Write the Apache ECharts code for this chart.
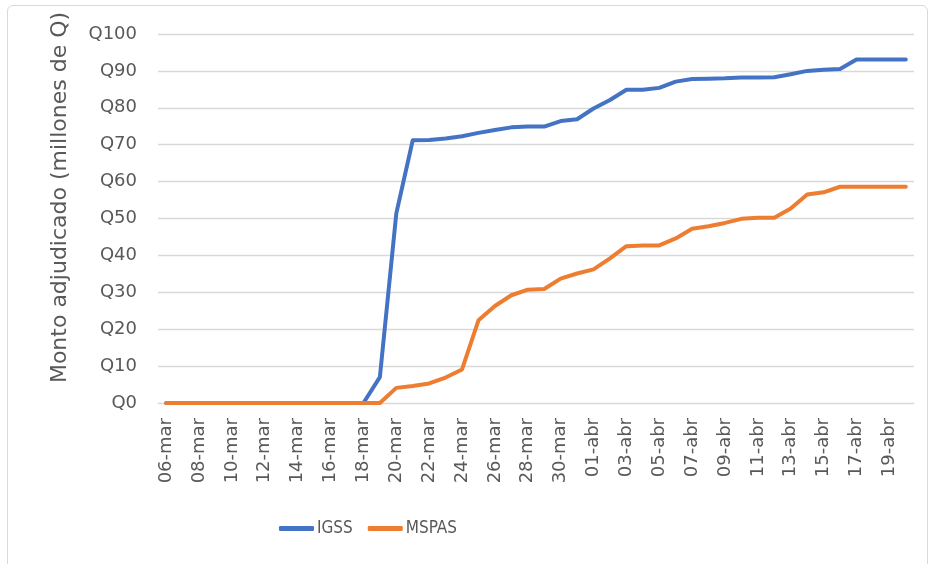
<!DOCTYPE html>
<html><head><meta charset="utf-8">
<script src="https://cdn.jsdelivr.net/npm/echarts@6/dist/echarts.min.js"></script>
<style>
html,body{margin:0;padding:0;background:#fff;}
#frame{position:absolute;left:7px;top:5px;width:921px;height:580px;border:1px solid #d9d9d9;border-radius:6px;box-sizing:border-box;}
#c{position:absolute;left:0;top:0;width:931px;height:564px;}
</style>
</head><body>
<div id="frame"></div>
<div id="c"></div>
<script>
const categories = ["06-mar","07-mar","08-mar","09-mar","10-mar","11-mar","12-mar","13-mar","14-mar","15-mar","16-mar","17-mar","18-mar","19-mar","20-mar","21-mar","22-mar","23-mar","24-mar","25-mar","26-mar","27-mar","28-mar","29-mar","30-mar","31-mar","01-abr","02-abr","03-abr","04-abr","05-abr","06-abr","07-abr","08-abr","09-abr","10-abr","11-abr","12-abr","13-abr","14-abr","15-abr","16-abr","17-abr","18-abr","19-abr","20-abr"];
const igss = [0,0,0,0,0,0,0,0,0,0,0,0,0,7.0,51.4,71.2,71.3,71.7,72.3,73.2,74.0,74.7,74.9,74.9,76.4,76.9,79.8,82.1,84.9,84.9,85.4,87.1,87.8,87.9,88.0,88.2,88.2,88.3,89.1,90.0,90.3,90.5,93.1,93.1,93.1,93.1];
const mspas = [0,0,0,0,0,0,0,0,0,0,0,0,0,0,4.1,4.6,5.3,6.9,9.1,22.4,26.3,29.2,30.7,30.9,33.7,35.1,36.2,39.2,42.5,42.7,42.7,44.6,47.2,47.9,48.8,49.9,50.2,50.2,52.7,56.5,57.1,58.6,58.6,58.6,58.6,58.6];
const yTicks = [0,10,20,30,40,50,60,70,80,90,100];

const chart = echarts.init(document.getElementById('c'), null, {renderer:'canvas'});
const txt = '#595959';
const ff = 'DejaVu Sans';
chart.setOption({
  animation:false,
  textStyle:{fontFamily:ff},
  grid:{left:158,right:17,top:34,bottom:161,containLabel:false},
  legend:{
    data:['IGSS','MSPAS'], left:274, top:515, icon:'roundRect',
    itemWidth:35, itemHeight:5, itemGap:15,
    textStyle:{color:txt,fontSize:17,fontFamily:'DejaVu Sans Condensed',padding:[0,0,0,-2]}
  },
  xAxis:{
    type:'category', data:categories, boundaryGap:true,
    axisLine:{lineStyle:{color:'#d9d9d9',width:1}},
    axisTick:{show:false},
    axisLabel:{interval:1,rotate:90,color:txt,fontSize:18,margin:15,fontFamily:ff}
  },
  yAxis:{
    type:'value', min:0, max:100, interval:10,
    name:'Monto adjudicado (millones de Q)', nameLocation:'middle', nameGap:87,
    nameTextStyle:{color:txt,fontSize:22,fontFamily:ff,padding:[0,0,0,42]},
    axisLine:{show:false}, axisTick:{show:false},
    splitLine:{lineStyle:{color:'#d9d9d9',width:1.3}},
    axisLabel:{color:txt,fontSize:18,margin:21,fontFamily:ff,
      formatter:function(v){return yTicks.indexOf(v)>=0?'Q'+v:'';}}
  },
  series:[
    {name:'IGSS',type:'line',data:igss,showSymbol:false,symbol:'none',
     lineStyle:{color:'#4472C4',width:4,cap:'round',join:'round'},itemStyle:{color:'#4472C4'}},
    {name:'MSPAS',type:'line',data:mspas,showSymbol:false,symbol:'none',
     lineStyle:{color:'#ED7D31',width:4,cap:'round',join:'round'},itemStyle:{color:'#ED7D31'}}
  ]
});
</script>
</body></html>
